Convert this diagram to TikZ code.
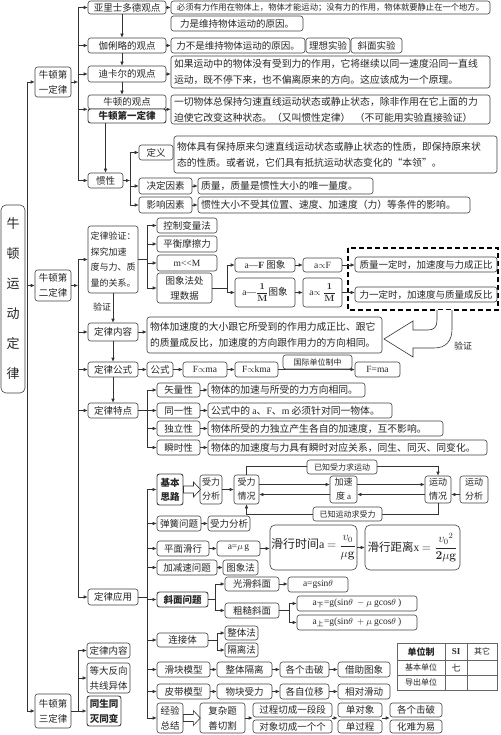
\documentclass[tikz,border=0pt]{standalone}
\usepackage{amsmath}
\usepackage[no-math]{fontspec}
\setmainfont{Noto Sans CJK SC}
\newfontfamily\lat{Liberation Serif}
\usetikzlibrary{arrows.meta,calc}
\newcommand\fsz[2]{\fontsize{#1}{#2}\selectfont}
\newcommand\bx[7][]{\node[bx,minimum width={(#5-#3)*1pt},minimum height={(#6-#4)*1pt},#1] (#2) at ({(#3+#5)/2},{(#4+#6)/2}) {#7};}
\newcommand\dbx[7][]{\node[bx,font=\fsz{9.8}{16},minimum width={(#5-#3)*1pt},minimum height={(#6-#4)*1pt},#1] (#2) at ({(#3+#5)/2},{(#4+#6)/2}) {\parbox{\dimexpr #5pt-#3pt-6pt\relax}{\raggedright #7}};}
\begin{document}
\begin{tikzpicture}[x=1pt,y=-1pt,
  bx/.style={draw=black!75,line width=0.6pt,rounded corners=2.5pt,fill=white,inner sep=1pt,text=black!85,font=\fsz{9.5}{15},align=center},
  arr/.style={draw=black!80,line width=0.6pt,-{Latex[length=4pt,width=3.5pt]}},
  ln/.style={draw=black!80,line width=0.6pt},
  hollow/.style={draw=black!80,line width=0.6pt,fill=white},
  dsh/.style={draw=black,line width=1.5pt,dash pattern=on 5pt off 3pt},
  tbl/.style={draw=black!60,line width=0.5pt},
  tt/.style={text=black!85,font=\fsz{8}{10},inner sep=0pt}]
\useasboundingbox (0,0) rectangle (500,735);
\coordinate (t0) at (27,0);
\coordinate (t1) at (78,0);
\coordinate (t2) at (130,0);
\coordinate (t3) at (147,0);
\coordinate (t4) at (227,0);
\coordinate (t5) at (215,0);
\coordinate (t6) at (289,0);
\coordinate (t7) at (217,0);

% main and level-1 nodes
\bx[font=\fsz{13}{30},rounded corners=5pt]{main}{1}{205}{25}{393}{牛\\顿\\运\\动\\定\\律}
\bx{La}{35}{67}{71}{97}{牛顿第\\一定律}
\bx{Lb}{35}{270}{71}{301}{牛顿第\\二定律}
\bx{Lc}{35}{694}{71}{728}{牛顿第\\三定律}
\draw[ln] (La.west -| t0) -- (Lc.west -| t0);
\draw[arr] (La.west -| t0) -- (La.west);
\draw[arr] (Lb.west -| t0) -- (Lb.west);
\draw[arr] (Lc.west -| t0) -- (Lc.west);

% ===== Section 1 =====
\bx{ari}{88}{1}{166}{14}{亚里士多德观点}
\bx[font=\fsz{8.3}{10}]{ariA}{171}{1}{490}{14}{必须有力作用在物体上，物体才能运动；没有力的作用，物体就要静止在一个地方。}
\bx{ariB}{171}{16}{303}{31}{力是维持物体运动的原因。}
\bx{gal}{88}{38}{166}{53}{伽俐略的观点}
\bx{galA}{171}{38}{305}{53}{力不是维持物体运动的原因。}
\bx{galB}{306}{38}{350}{53}{理想实验}
\bx{galC}{351}{38}{402}{53}{斜面实验}
\bx{des}{88}{66}{166}{82}{迪卡尔的观点}
\dbx{desA}{171}{56}{490}{88}{如果运动中的物体没有受到力的作用，它将继续以同一速度沿同一直线\\运动，既不停下来，也不偏离原来的方向。这应该成为一个原理。}
\bx{nwA}{88}{95}{166}{109}{牛顿的观点}
\bx[font=\bfseries\fsz{9.5}{15},line width=0.9pt]{nwB}{88}{109}{166}{123}{牛顿第一定律}
\dbx{nwC}{171}{95}{490}{124}{一切物体总保持匀速直线运动状态或静止状态，除非作用在它上面的力\\迫使它改变这种状态。（又叫惯性定律）\ \ （不可能用实验直接验证）}
\bx{gx}{88}{173}{123}{188}{惯性}
\bx{def}{139}{145}{173}{160}{定义}
\dbx{defA}{174}{136}{497}{173}{物体具有保持原来匀速直线运动状态或静止状态的性质，即保持原来状\\态的性质。或者说，它们具有抵抗运动状态变化的“本领”。}
\bx{jd}{139}{178}{192}{194}{决定因素}
\dbx{jdA}{198}{178}{373}{194}{质量，质量是惯性大小的唯一量度。}
\bx{yx}{139}{197}{192}{213}{影响因素}
\dbx{yxA}{198}{197}{470}{213}{惯性大小不受其位置、速度、加速度（力）等条件的影响。}

\draw[ln] (ari.west -| t1) -- (gx.west -| t1);
\draw[arr] (La.east) -- (La.east -| t1);
\draw[arr] (ari.west -| t1) -- (ari.west);
\draw[arr] (gal.west -| t1) -- (gal.west);
\draw[arr] (des.west -| t1) -- (des.west);
\draw[arr] (nwA.south west -| t1) -- (nwA.south west);
\draw[arr] (gx.west -| t1) -- (gx.west);
\draw[arr] (ari.east) -- (ari.east -| ariA.west);
\draw[arr] (gal.east) -- (gal.east -| galA.west);
\draw[arr] (des.east) -- (des.east -| desA.west);
\draw[arr] (nwA.south east) -- (nwA.south east -| nwC.west);
\draw[arr] ([xshift=-5pt]ari.south) -- ([xshift=-5pt]gal.north);
\draw[arr] ([xshift=-5pt]gal.south) -- ([xshift=-5pt]des.north);
\draw[arr] ([xshift=-5pt]des.south) -- ([xshift=-5pt]nwA.north);
\draw[arr] (gx.north |- nwB.south) -- (gx.north);
\draw[ln] (def.west -| t2) -- (yx.west -| t2);
\draw[arr] (gx.east) -- (gx.east -| t2);
\draw[arr] (def.west -| t2) -- (def.west);
\draw[arr] (jd.west -| t2) -- (jd.west);
\draw[arr] (yx.west -| t2) -- (yx.west);
\draw[arr] (jd.east) -- (jd.east -| jdA.west);
\draw[arr] (yx.east) -- (yx.east -| yxA.west);

% ===== Section 2 =====
\bx[align=left,font=\fsz{9}{15.5}]{yz}{88}{226}{138}{293}{定律验证：\\探究加速\\度与力、质\\量的关系。}
\bx{kz}{157}{218}{217}{233}{控制变量法}
\bx{ph}{157}{236}{217}{252}{平衡摩擦力}
\bx{mm}{157}{255}{217}{271}{\lat m<<M}
\bx{tx}{157}{273}{212}{303}{图象法处\\理数据}
\bx{aF}{235}{258}{295}{272}{{\lat a—\textbf{F}} 图象}
\bx{aFb}{303}{258}{342}{272}{{\lat a}$\propto${\lat F}}
\bx{aM}{235}{278}{295}{307}{{\lat a—}$\dfrac{\mathbf{1}}{\mathbf{M}}$图象}
\bx{aMb}{303}{278}{342}{307}{{\lat a}$\propto\dfrac{\mathbf{1}}{\mathbf{M}}$}
\draw[dsh] (348,248) rectangle (498,310);
\bx{zr}{355}{257}{497}{272}{质量一定时，加速度与力成正比}
\bx{fb}{355}{287}{497}{302}{力一定时，加速度与质量成反比}
\node[font=\fsz{9}{10},text=black!85] (vA) at (102,307) {验证};
\bx{nr}{88}{323}{138}{341}{定律内容}
\dbx{nrA}{147}{317}{382}{353}{物体加速度的大小跟它所受到的作用力成正比、跟它\\的质量成反比，加速度的方向跟作用力的方向相同。}
\draw[hollow] (437,310) -- (437,320) .. controls (437,327) and (434,330) .. (428,330) -- (413,330) -- (413,321) -- (384,339) -- (413,357) -- (413,348) -- (434,348) .. controls (446,348) and (452,341) .. (452,329) -- (452,310);
\node[font=\fsz{9}{10},text=black!85] (vB) at (463,346) {验证};
\bx{gs}{88}{362}{138}{377}{定律公式}
\bx{gsA}{147}{362}{173}{377}{公式}
\bx{gsB}{183}{362}{227}{377}{{\lat F}$\propto${\lat ma}}
\bx{gsC}{235}{362}{278}{377}{{\lat F}$\propto${\lat kma}}
\bx{gsD}{355}{362}{400}{377}{\lat F=ma}
\draw[arr] (gsC.east) -- (gsC.east -| gsD.west);
\bx[font=\fsz{8}{10}]{gsL}{283}{355}{352}{369}{国际单位制中}
\bx{td}{88}{403}{138}{418}{定律特点}
\bx{tdA}{157}{383}{200}{397}{矢量性}
\dbx{tdAx}{208}{383}{365}{397}{物体的加速与所受的力方向相同。}
\bx{tdB}{157}{403}{200}{418}{同一性}
\dbx{tdBx}{208}{403}{392}{418}{公式中的 {\lat a}、{\lat F}、{\lat m} 必须针对同一物体。}
\bx{tdC}{157}{421}{200}{436}{独立性}
\dbx{tdCx}{208}{421}{443}{436}{物体所受的力独立产生各自的加速度，互不影响。}
\bx{tdD}{157}{440}{200}{455}{瞬时性}
\dbx{tdDx}{208}{440}{487}{455}{物体的加速度与力具有瞬时对应关系，同生、同灭、同变化。}
\bx{yy}{88}{589}{138}{605}{定律应用}

\draw[ln] (yz.west -| t1) -- (yy.west -| t1);
\draw[arr] (Lb.east) -- (Lb.east -| t1);
\draw[arr] (yz.west -| t1) -- (yz.west);
\draw[arr] (nr.west -| t1) -- (nr.west);
\draw[arr] (gs.west -| t1) -- (gs.west);
\draw[arr] (td.west -| t1) -- (td.west);
\draw[arr] (yy.west -| t1) -- (yy.west);
\draw[ln] (yz.east) -- (yz.east -| t3);
\draw[ln] (kz.west -| t3) -- (tx.west -| t3);
\draw[arr] (kz.west -| t3) -- (kz.west);
\draw[arr] (ph.west -| t3) -- (ph.west);
\draw[arr] (mm.west -| t3) -- (mm.west);
\draw[arr] (tx.west -| t3) -- (tx.west);
\draw[ln] (tx.east) -- (tx.east -| t4);
\draw[ln] (aF.west -| t4) -- (aM.west -| t4);
\draw[arr] (aF.west -| t4) -- (aF.west);
\draw[arr] (aM.west -| t4) -- (aM.west);
\draw[arr] (aF.east) -- (aF.east -| aFb.west);
\draw[arr] (aFb.east) -- (aFb.east -| zr.west);
\draw[arr] (aM.east) -- (aM.east -| aMb.west);
\draw[arr] (aMb.east) -- (aMb.east -| fb.west);
\draw[arr] (yz.south) -- (nr.north);
\draw[arr] (nr.south) -- (gs.north);
\draw[arr] (gs.south) -- (td.north);
\draw[arr] (nr.east) -- (nr.east -| nrA.west);
\draw[arr] (gs.east) -- (gs.east -| gsA.west);
\draw[arr] (gsA.east) -- (gsA.east -| gsB.west);
\draw[arr] (gsB.east) -- (gsB.east -| gsC.west);
\draw[ln] (td.east) -- (td.east -| t3);
\draw[ln] (tdA.west -| t3) -- (tdD.west -| t3);
\draw[arr] (tdA.west -| t3) -- (tdA.west);
\draw[arr] (tdB.west -| t3) -- (tdB.west);
\draw[arr] (tdC.west -| t3) -- (tdC.west);
\draw[arr] (tdD.west -| t3) -- (tdD.west);
\draw[arr] (tdA.east) -- (tdA.east -| tdAx.west);
\draw[arr] (tdB.east) -- (tdB.east -| tdBx.west);
\draw[arr] (tdC.east) -- (tdC.east -| tdCx.west);
\draw[arr] (tdD.east) -- (tdD.east -| tdDx.west);

% ===== application =====
\bx[font=\bfseries\fsz{9.5}{14},line width=0.9pt]{jb}{157}{474}{183}{505}{基本\\思路}
\bx[font=\fsz{9}{14}]{sl}{200}{475}{222}{504}{受力\\分析}
\bx[font=\fsz{9}{14}]{sq}{234}{475}{259}{504}{受力\\情况}
\bx[font=\fsz{9}{14}]{jsd}{330}{476}{357}{503}{加速\\度 {\lat a}}
\bx[font=\fsz{9}{14}]{yq}{425}{476}{451}{503}{运动\\情况}
\bx[font=\fsz{9}{14}]{yf}{460}{476}{488}{503}{运动\\分析}
\draw[arr] (sq.north) -- ++(0,-8) -| (yq.north);
\draw[arr] (yq.south) -- ++(0,11) -| (sq.south);
\bx[font=\fsz{8}{10}]{lbA}{307}{460}{377}{474}{已知受力求运动}
\bx[font=\fsz{8}{10}]{lbB}{313}{507}{382}{521}{已知运动求受力}
\draw[hollow] ($(jb.east)+(0,-3.5)$) -- ++(10,0) -- ++(0,-4) -- ++(7,7.5) -- ++(-7,7.5) -- ++(0,-4) -- ++(-10,0) -- cycle;
\draw[arr] (sl.east) -- (sl.east -| sq.west);
\draw[arr] ([yshift=5pt]sq.east) -- ([yshift=5pt]jsd.west);
\draw[arr] ([yshift=-5pt]jsd.west) -- ([yshift=-5pt]sq.east);
\draw[arr] ([yshift=5pt]jsd.east) -- ([yshift=5pt]yq.west);
\draw[arr] ([yshift=-5pt]yq.west) -- ([yshift=-5pt]jsd.east);
\draw[arr] ([yshift=-5pt]yf.west) -- ([yshift=-5pt]yq.east);

\bx{th}{157}{516}{201}{531}{弹簧问题}
\bx{thA}{208}{516}{250}{531}{受力分析}
\bx{pm}{157}{541}{209}{556}{平面滑行}
\bx{pmA}{217}{541}{260}{556}{{\lat a=}$\mu$\,{\lat g}}
\bx[font=\fsz{12}{15},rounded corners=5pt]{pmB}{270}{525}{357}{570}{滑行时间{\lat a} $=\dfrac{v_0}{\mu\mathbf{g}}$}
\bx[font=\fsz{11.5}{15},rounded corners=5pt]{pmC}{365}{525}{460}{570}{滑行距离{\lat x} $=\dfrac{{v_0}^{2}}{\mathbf{2}\mu\mathbf{g}}$}
\bx{js}{157}{560}{217}{575}{加减速问题}
\bx{jsA}{223}{560}{258}{575}{图象法}
\bx[font=\bfseries\fsz{9.5}{14},line width=0.9pt]{xm}{157}{592}{208}{607}{斜面问题}
\bx{gh}{225}{577}{279}{591}{光滑斜面}
\bx{ghA}{288}{577}{348}{592}{{\lat a=gsin}$\theta$}
\bx{cc}{225}{603}{279}{618}{粗糙斜面}
\bx{ccA}{297}{596}{417}{611}{{\lat a}\textsubscript{下}{\lat =g(sin}$\theta\ -\mu\ ${\lat gcos}$\theta$ {\lat )}}
\bx{ccB}{297}{615}{417}{630}{{\lat a}\textsubscript{上}{\lat =g(sin}$\theta\ +\mu\ ${\lat gcos}$\theta$ {\lat )}}
\bx{lj}{157}{633}{208}{647}{连接体}
\bx{zt}{225}{626}{258}{640}{整体法}
\bx{gl}{225}{643}{258}{657}{隔离法}
\bx{hk}{157}{662}{210}{677}{滑块模型}
\bx{hkA}{217}{662}{272}{677}{整体隔离}
\bx{hkB}{280}{662}{329}{677}{各个击破}
\bx{hkC}{338}{662}{390}{677}{借助图象}
\bx{pd}{157}{684}{210}{699}{皮带模型}
\bx{pdA}{217}{684}{272}{699}{物块受力}
\bx{pdB}{280}{684}{329}{699}{各自位移}
\bx{pdC}{338}{684}{390}{699}{相对滑动}
\bx{jy}{157}{703}{183}{733}{经验\\总结}
\bx{fz}{200}{703}{245}{733}{复杂题\\善切割}
\bx{gcA}{253}{703}{332}{717}{过程切成一段段}
\bx{gcB}{253}{720}{332}{733}{对象切成一个个}
\bx{ddA}{338}{703}{382}{717}{单对象}
\bx{ddB}{338}{720}{382}{733}{单过程}
\bx{ggA}{390}{703}{442}{717}{各个击破}
\bx{ggB}{390}{720}{442}{733}{化难为易}

\draw[ln] (yy.east) -- (yy.east -| t3);
\draw[ln] (jb.west -| t3) -- (jy.west -| t3);
\foreach \n in {jb,th,pm,js,xm,lj,hk,pd,jy} {\draw[arr] (\n.west -| t3) -- (\n.west);}
\draw[arr] (th.east) -- (th.east -| thA.west);
\draw[arr] (pm.east) -- (pm.east -| pmA.west);
\draw[arr] (pmA.east) -- (pmA.east -| pmB.west);
\draw[arr] (pmB.east) -- (pmB.east -| pmC.west);
\draw[arr] (js.east) -- (js.east -| jsA.west);
\draw[ln] (xm.east) -- (xm.east -| t5);
\draw[ln] (gh.west -| t5) -- (cc.west -| t5);
\draw[arr] (gh.west -| t5) -- (gh.west);
\draw[arr] (cc.west -| t5) -- (cc.west);
\draw[arr] (gh.east) -- (gh.east -| ghA.west);
\draw[ln] (cc.east) -- (cc.east -| t6);
\draw[ln] (ccA.west -| t6) -- (ccB.west -| t6);
\draw[arr] (ccA.west -| t6) -- (ccA.west);
\draw[arr] (ccB.west -| t6) -- (ccB.west);
\draw[ln] (lj.east) -- (lj.east -| t7);
\draw[ln] (zt.west -| t7) -- (gl.west -| t7);
\draw[arr] (zt.west -| t7) -- (zt.west);
\draw[arr] (gl.west -| t7) -- (gl.west);
\draw[arr] (hk.east) -- (hk.east -| hkA.west);
\draw[arr] (hkA.east) -- (hkA.east -| hkB.west);
\draw[arr] (hkB.east) -- (hkB.east -| hkC.west);
\draw[arr] (pd.east) -- (pd.east -| pdA.west);
\draw[arr] (pdA.east) -- (pdA.east -| pdB.west);
\draw[arr] (pdB.east) -- (pdB.east -| pdC.west);
\draw[hollow] ($(jy.east)+(0,-3.5)$) -- ++(10,0) -- ++(0,-4) -- ++(7,7.5) -- ++(-7,7.5) -- ++(0,-4) -- ++(-10,0) -- cycle;
\draw[arr] (fz.east) -- (fz.east -| gcA.west);
\draw[arr] (fz.east -| gcA.east) -- (fz.east -| ddA.west);
\draw[arr] (fz.east -| ddA.east) -- (fz.east -| ggA.west);

% table
\draw[tbl] (397,643) rectangle (497,690);
\draw[tbl] (397,660) -- (497,660);
\draw[tbl] (397,675) -- (497,675);
\draw[tbl] (445,643) -- (445,690);
\draw[tbl] (467,643) -- (467,690);
\node[tt,font=\bfseries\fsz{9}{10}] (tH1) at (421,651.5) {单位制};
\node[tt,font=\lat\bfseries\fsz{9}{10}] (tH2) at (456,651.5) {SI};
\node[tt] (tH3) at (482,651.5) {其它};
\node[tt] (tR1) at (421,667.5) {基本单位};
\node[tt,font=\fsz{9}{10}] (tR2) at (456,667.5) {七};
\node[tt] (tR3) at (421,682.5) {导出单位};

% ===== Section 3 =====
\bx{tA}{87}{643}{130}{658}{定律内容}
\bx{tB}{87}{663}{130}{693}{等大反向\\共线异体}
\bx[font=\bfseries\fsz{9.5}{15},line width=0.9pt]{tC}{87}{696}{121}{726}{同生同\\灭同变}
\draw[ln] (tA.west -| t1) -- (tC.west -| t1);
\draw[arr] (tA.west -| t1) -- (tA.west);
\draw[arr] (tB.west -| t1) -- (tB.west);
\draw[arr] (Lc.east) -- (tC.west);
\end{tikzpicture}
\end{document}
